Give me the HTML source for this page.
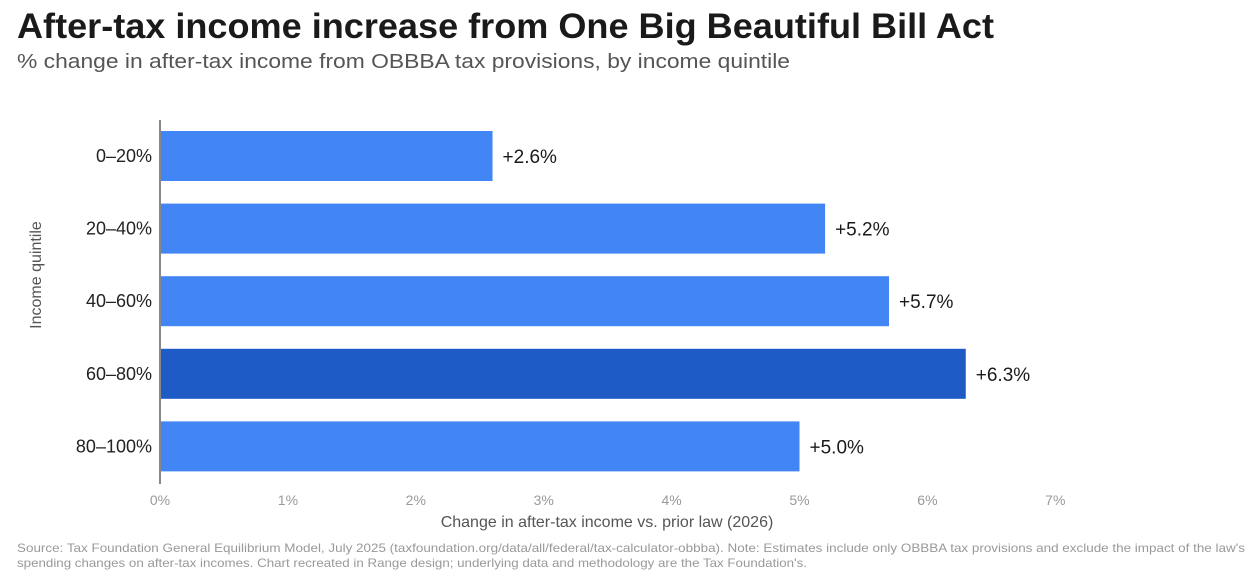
<!DOCTYPE html>
<html><head><meta charset="utf-8"><style>
html,body{margin:0;padding:0;background:#fff;}
svg{display:block;font-family:"Liberation Sans",sans-serif;}
</style></head><body>
<svg id="chart" width="1257" height="578" viewBox="0 0 1257 578">
<text x="17" y="38" font-size="35" font-weight="bold" fill="#1a1a1a" textLength="977" lengthAdjust="spacingAndGlyphs">After-tax income increase from One Big Beautiful Bill Act</text>
<text x="17" y="68" font-size="20" fill="#555" textLength="773" lengthAdjust="spacingAndGlyphs">% change in after-tax income from OBBBA tax provisions, by income quintile</text>
<g id="plot"></g>
<line x1="160" y1="120" x2="160" y2="484" stroke="#888" stroke-width="2"/>
<text x="0" y="0" transform="translate(41,275) rotate(-90)" text-anchor="middle" font-size="16" fill="#555">Income quintile</text>
<text x="607" y="527" text-anchor="middle" font-size="16" fill="#555">Change in after-tax income vs. prior law (2026)</text>
<text x="17" y="552" font-size="12" fill="#999" textLength="1228" lengthAdjust="spacingAndGlyphs">Source: Tax Foundation General Equilibrium Model, July 2025 (taxfoundation.org/data/all/federal/tax-calculator-obbba). Note: Estimates include only OBBBA tax provisions and exclude the impact of the law's</text>
<text x="17" y="567" font-size="12" fill="#999" textLength="790" lengthAdjust="spacingAndGlyphs">spending changes on after-tax incomes. Chart recreated in Range design; underlying data and methodology are the Tax Foundation's.</text>
</svg>
<script>
const categories = ["0–20%","20–40%","40–60%","60–80%","80–100%"];
const values = [2.6,5.2,5.7,6.3,5.0];
const highlighted = ["60–80%"];
const xTicks = [0,1,2,3,4,5,6,7];
const NS="http://www.w3.org/2000/svg";
const g=document.getElementById('plot');
const x=v=>160+v*127.9;
const y=i=>131+i*72.6;
const BH=50;
function mk(t,a){const e=document.createElementNS(NS,t);for(const k in a)e.setAttribute(k,a[k]);return e;}
xTicks.forEach(t=>{
  const e=mk('text',{x:x(t),y:505,'text-anchor':'middle','font-size':14,fill:'#999'});
  e.textContent=t+'%';
  
  
  g.appendChild(e);
});
categories.forEach((c,i)=>{
  const v=values[i];
  const r=mk('rect',{x:x(0),y:y(i),width:x(v)-x(0),height:BH,fill:highlighted.includes(c)?'#1f5bc7':'#4285f4'});
  
  
  g.appendChild(r);
  const l=mk('text',{x:152,y:y(i)+BH/2+6,'text-anchor':'end','font-size':18,fill:'#222'});
  l.textContent=c;
  
  
  g.appendChild(l);
  const vl=mk('text',{x:x(v)+10,y:y(i)+BH/2+7,'font-size':19,fill:'#1a1a1a'});
  vl.textContent='+'+v.toFixed(1)+'%';
  
  
  g.appendChild(vl);
});
</script>
</body></html>
